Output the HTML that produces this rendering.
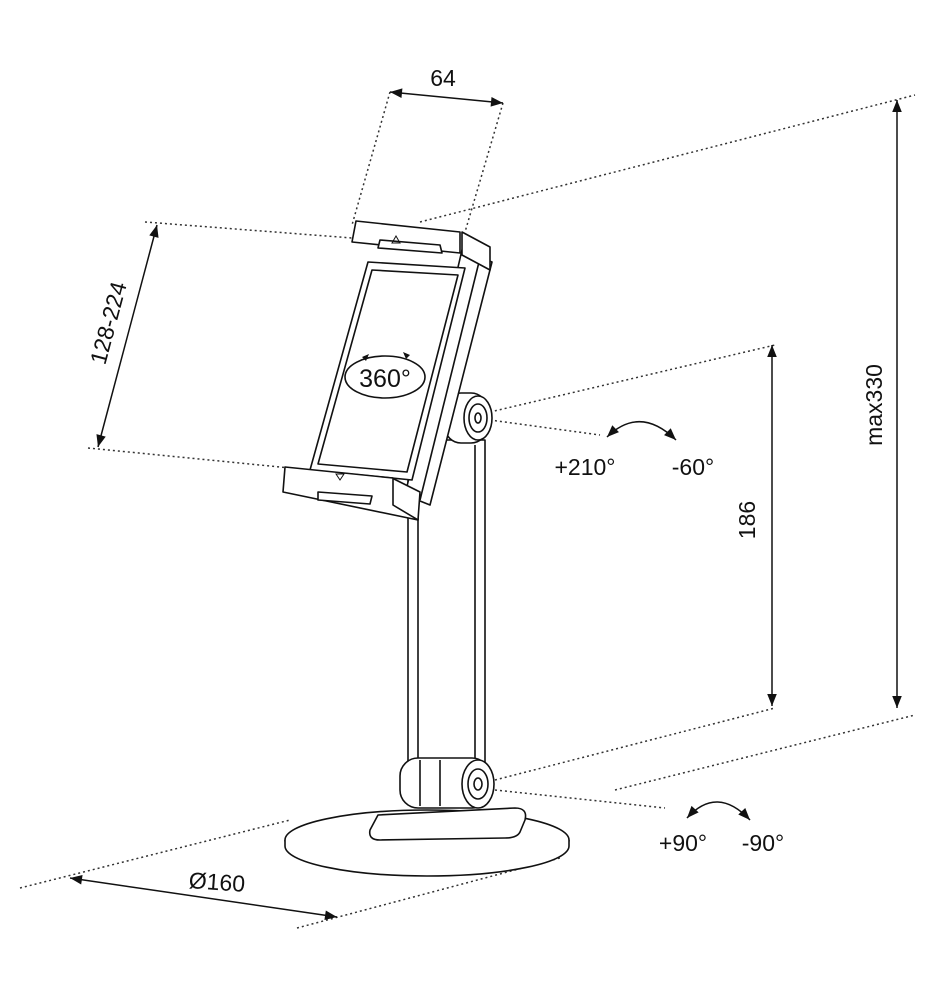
<!DOCTYPE html>
<html><head><style>body{margin:0;background:#fff}svg{display:block}text{font-family:"Liberation Sans",sans-serif;fill:#111}</style></head>
<body>
<svg width="939" height="1000" viewBox="0 0 939 1000" xmlns="http://www.w3.org/2000/svg">
<defs>
<marker id="a" viewBox="0 0 10 10" refX="10" refY="5" markerWidth="10" markerHeight="8" orient="auto-start-reverse"><path d="M0,1 L10,5 L0,9 z" fill="#111"/></marker>
</defs>
<g stroke="#333" stroke-width="1.5" stroke-dasharray="2,3" fill="none">
<line x1="390" y1="92" x2="352" y2="225"/>
<line x1="503" y1="103" x2="465" y2="232"/>
<line x1="145" y1="222" x2="352" y2="238"/>
<line x1="88" y1="448" x2="290" y2="468"/>
<line x1="420" y1="222" x2="915" y2="95"/>
<line x1="490" y1="412" x2="775" y2="345"/>
<line x1="490" y1="420" x2="600" y2="435"/>
<line x1="495" y1="780" x2="775" y2="708"/>
<line x1="615" y1="790" x2="915" y2="715"/>
<line x1="495" y1="790" x2="665" y2="808"/>
<line x1="20" y1="888" x2="290" y2="820"/>
<line x1="297" y1="928" x2="560" y2="858"/>
</g>
<g stroke="#111" stroke-width="1.5" fill="none">
<line x1="390" y1="92" x2="503" y2="103" marker-start="url(#a)" marker-end="url(#a)"/>
<line x1="157" y1="225" x2="98" y2="447" marker-start="url(#a)" marker-end="url(#a)"/>
<line x1="897" y1="100" x2="897" y2="708" marker-start="url(#a)" marker-end="url(#a)"/>
<line x1="772" y1="345" x2="772" y2="706" marker-start="url(#a)" marker-end="url(#a)"/>
<line x1="70" y1="878" x2="337" y2="917" marker-start="url(#a)" marker-end="url(#a)"/>
<path d="M607,437 Q640,405 676,440" marker-start="url(#a)" marker-end="url(#a)"/>
<path d="M687,818 Q717,785 750,820" marker-start="url(#a)" marker-end="url(#a)"/>
</g>
<g stroke="#111" stroke-width="1.6" fill="#fff" stroke-linejoin="round">
<ellipse cx="427" cy="840" rx="142" ry="30"/>
<path d="M285,840 v6 a142,30 0 0 0 284,0 v-6" />
<path d="M378,815 L515,808 Q528,808 525,820 L520,832 Q517,838 505,838 L380,840 Q368,840 370,830 Z"/>
<rect x="408" y="440" width="77" height="330"/>
<line x1="418" y1="445" x2="418" y2="765"/>
<line x1="475" y1="445" x2="475" y2="765"/>
<rect x="400" y="758" width="90" height="50" rx="18"/>
<line x1="420" y1="760" x2="420" y2="806"/>
<line x1="440" y1="760" x2="440" y2="806"/>
<ellipse cx="478" cy="784" rx="16" ry="24"/>
<ellipse cx="478" cy="784" rx="10" ry="15"/>
<ellipse cx="478" cy="784" rx="4" ry="6"/>
<rect x="445" y="393" width="42" height="50" rx="16"/>
<ellipse cx="478" cy="418" rx="14" ry="22"/>
<ellipse cx="478" cy="418" rx="9" ry="14"/>
<ellipse cx="478" cy="418" rx="3" ry="5"/>
<path d="M462,250 L492,262 L430,505 L405,495 Z"/>
<line x1="480" y1="258" x2="420" y2="500"/>
<path d="M368,262 L465,268 L412,480 L310,470 Z"/>
<path d="M372,270 L458,275 L407,472 L318,464 Z"/>
<path d="M462,232 L490,247 L490,270 L462,255 Z"/>
<path d="M356,221 L460,232 L460,253 L352,242 Z"/>
<path d="M380,240 L440,245 L442,253 L378,248 Z"/>
<path d="M392,478 L420,492 L418,520 L392,505 Z"/>
<path d="M285,467 L393,478 L393,505 L418,520 L283,492 Z"/>
<path d="M318,492 L372,496 L370,504 L318,500 Z"/>
<ellipse cx="385" cy="377" rx="40" ry="21"/>
</g>
<path d="M400,243 l-4,-7 l-4,7 z M336,474 l4,6 l4,-6 z" fill="none" stroke="#111"/>
<path d="M362,357 l7,-3 l-3,7 z M410,355 l-7,-3 l3,7 z" fill="#111"/>
<text x="385" y="387" font-size="25" text-anchor="middle">360°</text>
<text x="443" y="86" font-size="23" text-anchor="middle">64</text>
<text transform="translate(116,325) rotate(-75)" font-size="23" text-anchor="middle">128-224</text>
<text transform="translate(882,405) rotate(-90)" font-size="23" text-anchor="middle">max330</text>
<text transform="translate(755,520) rotate(-90)" font-size="23" text-anchor="middle">186</text>
<text x="585" y="475" font-size="23" text-anchor="middle">+210°</text>
<text x="693" y="475" font-size="23" text-anchor="middle">-60°</text>
<text x="683" y="851" font-size="23" text-anchor="middle">+90°</text>
<text x="763" y="851" font-size="23" text-anchor="middle">-90°</text>
<text x="217" y="890" font-size="23" text-anchor="middle" transform="rotate(4,217,882)">Ø160</text>
</svg>
</body></html>
